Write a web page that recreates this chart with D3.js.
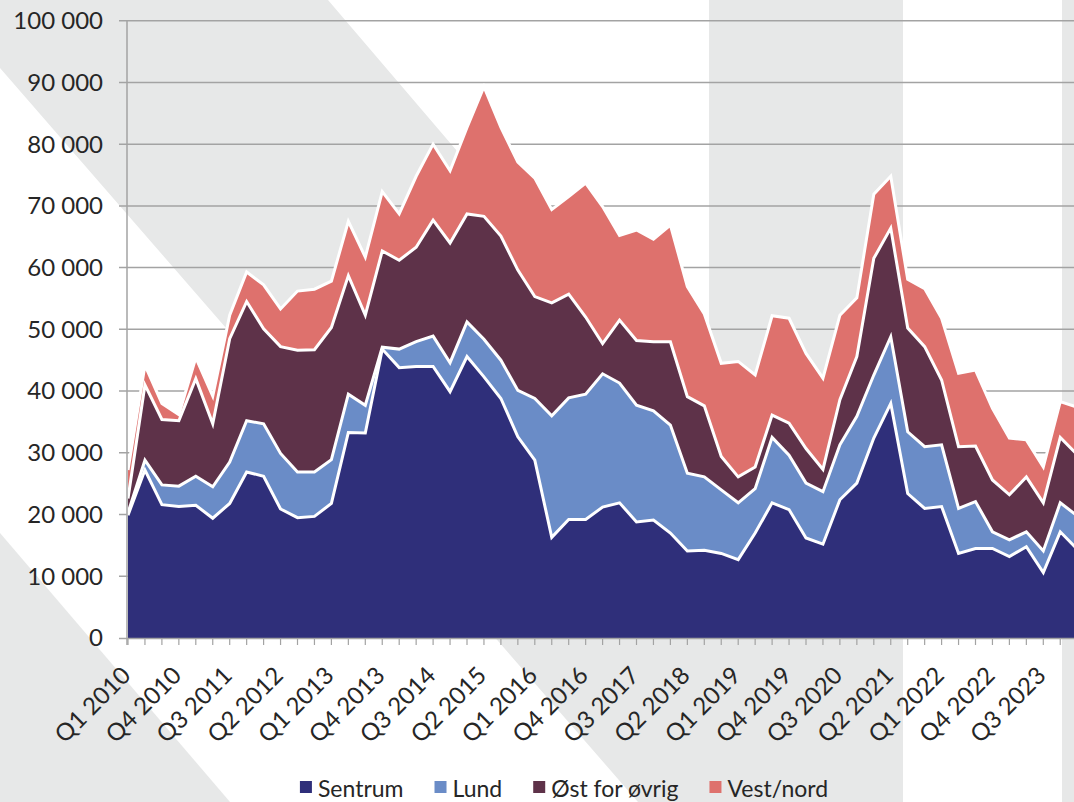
<!DOCTYPE html>
<head>
	<meta charset="UTF-8">
	<script src="https://d3js.org/d3.v7.min.js"></script>
	<title>Boligbygging etter område</title>
<style>
	body{
		margin: 0;
		background-color: #ffffff;
	}
	svg{
		display: block;
	}
	text{
		font-family: 'Lato', sans-serif;
		fill: #262626;
	}
</style>
</head>

<body>
	<svg width=1074 height=802></svg>
</body>

<script>
	// Quarters shown on the x axis
	var quarters = [
		"Q1 2010","Q2 2010","Q3 2010","Q4 2010","Q1 2011","Q2 2011","Q3 2011","Q4 2011",
		"Q1 2012","Q2 2012","Q3 2012","Q4 2012","Q1 2013","Q2 2013","Q3 2013","Q4 2013",
		"Q1 2014","Q2 2014","Q3 2014","Q4 2014","Q1 2015","Q2 2015","Q3 2015","Q4 2015",
		"Q1 2016","Q2 2016","Q3 2016","Q4 2016","Q1 2017","Q2 2017","Q3 2017","Q4 2017",
		"Q1 2018","Q2 2018","Q3 2018","Q4 2018","Q1 2019","Q2 2019","Q3 2019","Q4 2019",
		"Q1 2020","Q2 2020","Q3 2020","Q4 2020","Q1 2021","Q2 2021","Q3 2021","Q4 2021",
		"Q1 2022","Q2 2022","Q3 2022","Q4 2022","Q1 2023","Q2 2023","Q3 2023","Q4 2023",
		"Q1 2024"];

	// Every third quarter gets a label
	var tickLabels = ["Q1 2010","Q4 2010","Q3 2011","Q2 2012","Q1 2013","Q4 2013","Q3 2014",
		"Q2 2015","Q1 2016","Q4 2016","Q3 2017","Q2 2018","Q1 2019","Q4 2019","Q3 2020",
		"Q2 2021","Q1 2022","Q4 2022","Q3 2023"];

	var yTicks = [0, 10000, 20000, 30000, 40000, 50000, 60000, 70000, 80000, 90000, 100000];

	var seriesNames = ["Sentrum", "Lund", "Øst for øvrig", "Vest/nord"];
	var seriesColors = ["#2f2f7a", "#6a8cc7", "#5e3249", "#de716d"];

	// Values per quarter
	var sentrum = [19900,27200,21600,21300,21500,19400,21800,26900,26200,20900,19500,19700,
		21800,33300,33200,46800,43800,44000,44000,39900,45600,42300,38800,32600,28800,16300,
		19200,19200,21200,21900,18800,19100,17000,14100,14200,13700,12700,17000,21900,20800,
		16200,15200,22400,25100,32400,38000,23400,21000,21300,13700,14500,14500,13200,14800,
		10600,17200,14400];
	var lund = [400,1600,3200,3300,4700,5100,6700,8300,8500,9000,7400,7200,
		7100,6200,4500,300,3000,4000,4900,4700,5600,6100,6200,7500,10000,19700,
		19700,20300,21600,19400,18900,17700,17500,12600,11900,10300,9200,7200,10600,8800,
		8900,8500,8900,10800,10200,10800,10000,10000,10000,7300,7600,2700,2700,2400,
		3500,4700,5400];
	var ostForOvrig = [2300,12200,10600,10600,15800,10200,20000,19300,15400,17300,19700,19800,
		21400,19200,14600,15600,14400,15300,18800,19400,17500,19900,20100,19500,16500,18300,
		16800,12500,4900,10200,10500,11200,13500,12400,11500,5400,4200,3500,3600,5200,
		5600,3600,7300,9700,18900,17600,16800,16200,10500,10000,9000,8400,7300,8900,
		7800,10600,9900];
	var vestNord = [4600,3200,2600,1000,3400,4500,3800,4800,7100,6100,9600,9800,
		7500,8800,9400,9600,7500,11500,12300,11700,14000,21000,17600,17500,19200,15100,
		15800,21700,22200,13700,17900,16600,18900,17800,14900,15100,18700,14900,16100,17000,
		15400,14800,13700,9500,10400,8400,7900,9400,10000,11900,12300,11600,9200,6000,
		5800,5800,7700];

	var svg = d3.select("svg");
	var width = 1074, height = 802;

	// Background decoration of the slide (light grey stripes)
	var bgColor = "#e7e8e8";
	var bg = svg.append("g").attr("id", "background");
	bg.append("polygon")
		.attr("points", "0,0 328,0 709,446 709,0 903,0 903,802 638,802 0,68")
		.attr("fill", bgColor);
	bg.append("polygon")
		.attr("points", "0,533 230,802 0,802")
		.attr("fill", bgColor);
	bg.append("rect")
		.attr("x", 1062).attr("y", 0)
		.attr("width", width - 1062).attr("height", height)
		.attr("fill", bgColor);

	// Scales
	var x = d3.scaleLinear()
		.domain([0, quarters.length - 1])
		.range([128, 128 + (quarters.length - 1) * 16.95]);
	var y = d3.scaleLinear()
		.domain([0, 100000])
		.range([638, 20.7]);

	var nbFormat = d3.formatLocale({decimal: ",", thousands: " ", grouping: [3], currency: ["", " kr"]}).format(",");

	// Gridlines
	svg.append("g")
		.attr("id", "grid")
		.selectAll("line")
		.data(yTicks.slice(1)).enter()
		.append("line")
		.attr("x1", 119)
		.attr("x2", width)
		.attr("y1", d => y(d))
		.attr("y2", d => y(d))
		.attr("stroke", "#a3a3a3")
		.attr("stroke-width", 1.5);

	// Stack the series
	var table = quarters.map(function(q, i){
		return {q: q, "Sentrum": sentrum[i], "Lund": lund[i], "Øst for øvrig": ostForOvrig[i], "Vest/nord": vestNord[i]};
	});
	var stacked = d3.stack().keys(seriesNames)(table);

	var area = d3.area()
		.x((d, i) => x(i))
		.y0(d => y(d[0]))
		.y1(d => y(d[1]));
	var topLine = d3.line()
		.x((d, i) => x(i))
		.y(d => y(d[1]));

	var layers = svg.append("g").attr("id", "areas");
	layers.selectAll("path.fill")
		.data(stacked).enter()
		.append("path")
		.attr("class", "fill")
		.attr("d", area)
		.attr("fill", (d, i) => seriesColors[i]);

	// White borders between the series
	layers.selectAll("path.edge")
		.data(stacked).enter()
		.append("path")
		.attr("class", "edge")
		.attr("d", topLine)
		.attr("fill", "none")
		.attr("stroke", "#ffffff")
		.attr("stroke-width", 3)
		.attr("stroke-linejoin", "miter");

	// Axes
	var axes = svg.append("g").attr("id", "axes");
	axes.append("line")
		.attr("x1", 127).attr("x2", 127)
		.attr("y1", y(100000)).attr("y2", 645)
		.attr("stroke", "#a3a3a3").attr("stroke-width", 1.5);
	axes.append("line")
		.attr("x1", 119).attr("x2", width)
		.attr("y1", 638.5).attr("y2", 638.5)
		.attr("stroke", "#a3a3a3").attr("stroke-width", 1.5);
	axes.selectAll("line.xtick")
		.data(quarters).enter()
		.append("line")
		.attr("class", "xtick")
		.attr("x1", (d, i) => x(i)).attr("x2", (d, i) => x(i))
		.attr("y1", 638).attr("y2", 645)
		.attr("stroke", "#a3a3a3").attr("stroke-width", 1.2);

	// Y labels
	axes.selectAll("text.ylab")
		.data(yTicks).enter()
		.append("text")
		.attr("class", "ylab")
		.attr("x", 103)
		.attr("y", d => y(d))
		.attr("dy", "0.35em")
		.attr("text-anchor", "end")
		.attr("font-size", "24px")
		.text(d => nbFormat(d));

	// X labels, rotated
	axes.selectAll("text.xlab")
		.data(tickLabels).enter()
		.append("text")
		.attr("class", "xlab")
		.attr("text-anchor", "end")
		.attr("font-size", "24px")
		.attr("transform", function(d){
			var px = x(quarters.indexOf(d)) + 4;
			return "translate(" + px + ",677) rotate(-45)";
		})
		.text(d => d);

	// Legend
	var legend = svg.append("g").attr("id", "legend");
	var lx = 0;
	seriesNames.forEach(function(name, i){
		var item = legend.append("g").attr("transform", "translate(" + lx + ",0)");
		item.append("rect")
			.attr("x", 0).attr("y", 781)
			.attr("width", 12).attr("height", 12)
			.attr("fill", seriesColors[i]);
		var t = item.append("text")
			.attr("x", 18).attr("y", 797)
			.attr("font-size", "23px")
			.text(name);
		lx += 18 + t.node().getComputedTextLength() + 31;
	});
	var legendWidth = lx - 31;
	legend.attr("transform", "translate(" + (564 - legendWidth / 2) + ",0)");
</script>
